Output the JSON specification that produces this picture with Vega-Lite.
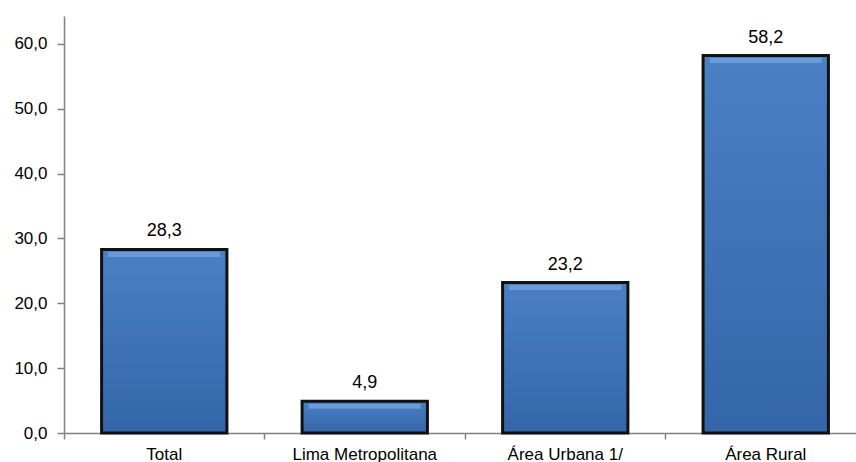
{
  "$schema": "https://vega.github.io/schema/vega-lite/v6.json",
  "autosize": {"type": "none"},
  "padding": {"left": 64, "top": 16, "right": 0, "bottom": 29},
  "width": 802,
  "height": 417,
  "background": "white",
  "config": {
    "view": {"stroke": null},
    "font": "Liberation Sans",
    "locale": {
      "number": {"decimal": ",", "thousands": ".", "grouping": [3], "currency": ["", " €"]}
    }
  },
  "data": {
    "values": [
      {"categoria": "Total", "valor": 28.3},
      {"categoria": "Lima Metropolitana", "valor": 4.9},
      {"categoria": "Área Urbana 1/", "valor": 23.2},
      {"categoria": "Área Rural", "valor": 58.2}
    ]
  },
  "encoding": {
    "x": {
      "field": "categoria",
      "type": "nominal",
      "sort": null,
      "scale": {"paddingInner": 0, "paddingOuter": 0},
      "axis": {
        "title": null,
        "labelAngle": 0,
        "labelFontSize": 17,
        "labelColor": "#000000",
        "labelPadding": 7,
        "domainColor": "#808080",
        "domainWidth": 1.5,
        "tickColor": "#808080",
        "tickWidth": 1.5,
        "tickSize": 6,
        "bandPosition": 0
      }
    },
    "y": {
      "field": "valor",
      "type": "quantitative",
      "scale": {"domain": [0, 64.3], "nice": false},
      "axis": {
        "title": null,
        "values": [0, 10, 20, 30, 40, 50, 60],
        "format": ".1f",
        "labelFontSize": 17,
        "labelColor": "#000000",
        "labelPadding": 10,
        "domainColor": "#808080",
        "domainWidth": 1.5,
        "tickColor": "#808080",
        "tickWidth": 1.5,
        "tickSize": 7,
        "grid": false
      }
    }
  },
  "layer": [
    {
      "mark": {
        "type": "bar",
        "width": {"band": 0.625},
        "stroke": "#111111",
        "strokeWidth": 3,
        "color": {
          "gradient": "linear",
          "x1": 0, "y1": 0, "x2": 0, "y2": 1,
          "stops": [
            {"offset": 0, "color": "#4A80C4"},
            {"offset": 1, "color": "#3465A9"}
          ]
        }
      }
    },
    {
      "mark": {
        "type": "tick",
        "orient": "horizontal",
        "size": 112,
        "thickness": 5,
        "yOffset": 5,
        "color": "#6E9DDA",
        "opacity": 0.9
      }
    },
    {
      "mark": {
        "type": "text",
        "dy": -13,
        "baseline": "alphabetic",
        "fontSize": 18,
        "color": "#000000"
      },
      "encoding": {
        "text": {"field": "valor", "type": "quantitative", "format": ".1f"}
      }
    }
  ]
}
